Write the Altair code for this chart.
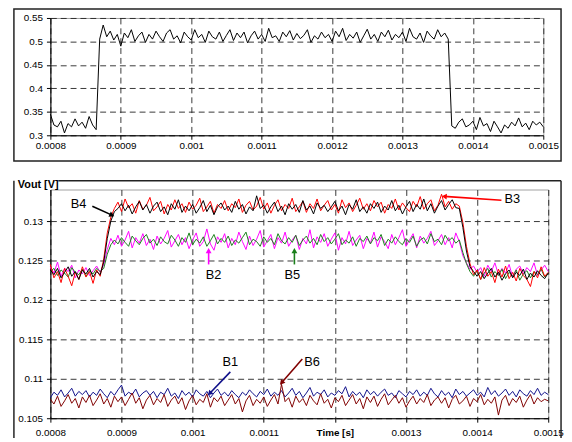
import altair as alt
import pandas as pd

FONT = "Liberation Sans"

# sample times (s)
time_s = [round(0.0008 + i * 0.000005, 7) for i in range(141)]

# top panel: input pulse (V)
top_v = [
    0.345, 0.322, 0.318, 0.330, 0.305, 0.325, 0.318, 0.335, 0.320, 0.328,
    0.315, 0.340, 0.322, 0.312, 0.505, 0.535, 0.510, 0.522, 0.503, 0.515,
    0.490, 0.518, 0.508, 0.525, 0.500, 0.512, 0.520, 0.498, 0.515, 0.505,
    0.522, 0.510, 0.500, 0.518, 0.525, 0.505, 0.512, 0.497, 0.520, 0.510,
    0.503, 0.525, 0.508, 0.515, 0.498, 0.522, 0.510, 0.505, 0.520, 0.500,
    0.513, 0.525, 0.502, 0.518, 0.508, 0.520, 0.497, 0.512, 0.522, 0.505,
    0.515, 0.500, 0.528, 0.508, 0.512, 0.500, 0.520, 0.510, 0.523, 0.503,
    0.517, 0.506, 0.513, 0.525, 0.498, 0.512, 0.505, 0.520, 0.508, 0.515,
    0.500, 0.522, 0.510, 0.528, 0.502, 0.515, 0.507, 0.520, 0.498, 0.512,
    0.526, 0.505, 0.515, 0.500, 0.520, 0.510, 0.524, 0.503, 0.515, 0.508,
    0.520, 0.500, 0.528, 0.510, 0.505, 0.518, 0.498, 0.522, 0.512, 0.505,
    0.525, 0.510, 0.518, 0.505, 0.320, 0.315, 0.328, 0.335, 0.318, 0.322,
    0.330, 0.312, 0.338, 0.320, 0.325, 0.308, 0.330, 0.318, 0.305, 0.322,
    0.315, 0.328, 0.320, 0.337, 0.318, 0.326, 0.312, 0.330, 0.322, 0.328,
    0.318,
]

# bottom panel: outputs B1..B6 (V)
b4 = [
    0.1238, 0.1232, 0.1240, 0.1228, 0.1235, 0.1242, 0.1230, 0.1236, 0.1226, 0.1238,
    0.1233, 0.1240, 0.1229, 0.1236, 0.1232, 0.1248, 0.1278, 0.1300, 0.1312, 0.1316,
    0.1322, 0.1313, 0.1320, 0.1309, 0.1318, 0.1325, 0.1314, 0.1321, 0.1310, 0.1319,
    0.1324, 0.1312, 0.1318, 0.1308, 0.1322, 0.1315, 0.1327, 0.1311, 0.1319, 0.1313,
    0.1321, 0.1310, 0.1317, 0.1326, 0.1312, 0.1320, 0.1308, 0.1318, 0.1323, 0.1314,
    0.1319, 0.1311, 0.1325, 0.1315, 0.1321, 0.1309, 0.1318, 0.1313, 0.1332, 0.1316,
    0.1320, 0.1310, 0.1318, 0.1324, 0.1312, 0.1319, 0.1308, 0.1322, 0.1315, 0.1321,
    0.1311, 0.1326, 0.1314, 0.1319, 0.1309, 0.1323, 0.1316, 0.1320, 0.1312, 0.1318,
    0.1325, 0.1313, 0.1319, 0.1308, 0.1321, 0.1315, 0.1327, 0.1312, 0.1318, 0.1310,
    0.1322, 0.1316, 0.1324, 0.1311, 0.1319, 0.1314, 0.1326, 0.1313, 0.1320, 0.1309,
    0.1318, 0.1325, 0.1312, 0.1321, 0.1315, 0.1328, 0.1313, 0.1322, 0.1310, 0.1319,
    0.1326, 0.1314, 0.1321, 0.1327, 0.1317, 0.1316, 0.1292, 0.1262, 0.1242, 0.1236,
    0.1230, 0.1236, 0.1227, 0.1234, 0.1240, 0.1229, 0.1235, 0.1225, 0.1233, 0.1238,
    0.1228, 0.1235, 0.1231, 0.1239, 0.1226, 0.1234, 0.1229, 0.1237, 0.1231, 0.1227,
    0.1234,
]
b3 = [
    0.1245, 0.1228, 0.1236, 0.1222, 0.1240, 0.1230, 0.1218, 0.1235, 0.1226, 0.1242,
    0.1229, 0.1236, 0.1221, 0.1238, 0.1230, 0.1252, 0.1285, 0.1305, 0.1316, 0.1324,
    0.1312, 0.1328, 0.1317, 0.1322, 0.1310, 0.1326, 0.1315, 0.1320, 0.1330, 0.1313,
    0.1318, 0.1325, 0.1309, 0.1321, 0.1314, 0.1327, 0.1316, 0.1322, 0.1311, 0.1324,
    0.1315, 0.1320, 0.1329, 0.1312, 0.1318, 0.1325, 0.1310, 0.1321, 0.1316, 0.1326,
    0.1313, 0.1322, 0.1317, 0.1328, 0.1311, 0.1320, 0.1325, 0.1314, 0.1319, 0.1330,
    0.1315, 0.1323, 0.1310, 0.1320, 0.1327, 0.1313, 0.1321, 0.1316, 0.1329, 0.1312,
    0.1318, 0.1325, 0.1311, 0.1322, 0.1316, 0.1328, 0.1313, 0.1320, 0.1326, 0.1314,
    0.1321, 0.1310, 0.1327, 0.1317, 0.1323, 0.1312, 0.1320, 0.1329, 0.1315, 0.1322,
    0.1313, 0.1326, 0.1318, 0.1324, 0.1310, 0.1321, 0.1316, 0.1328, 0.1314, 0.1323,
    0.1317, 0.1312, 0.1325, 0.1318, 0.1331, 0.1315, 0.1322, 0.1327, 0.1313, 0.1320,
    0.1334, 0.1318, 0.1325, 0.1315, 0.1322, 0.1319, 0.1298, 0.1268, 0.1246, 0.1232,
    0.1238, 0.1226, 0.1241, 0.1230, 0.1236, 0.1222, 0.1239, 0.1229, 0.1243, 0.1227,
    0.1235, 0.1224, 0.1240, 0.1231, 0.1226, 0.1217, 0.1236, 0.1228, 0.1242, 0.1230,
    0.1235,
]
b2 = [
    0.1242, 0.1234, 0.1248, 0.1230, 0.1240, 0.1236, 0.1244, 0.1228, 0.1238, 0.1233,
    0.1241, 0.1231, 0.1237, 0.1243, 0.1235, 0.1245, 0.1264, 0.1278, 0.1270, 0.1282,
    0.1268, 0.1276, 0.1287, 0.1266, 0.1279, 0.1272, 0.1284, 0.1269, 0.1277, 0.1264,
    0.1281, 0.1271, 0.1278, 0.1288, 0.1267, 0.1275, 0.1283, 0.1270, 0.1279, 0.1265,
    0.1276, 0.1285, 0.1268, 0.1274, 0.1290, 0.1271, 0.1263, 0.1280, 0.1273, 0.1284,
    0.1266, 0.1278, 0.1270, 0.1286, 0.1274, 0.1264, 0.1281, 0.1269, 0.1277, 0.1288,
    0.1267, 0.1275, 0.1283, 0.1265, 0.1279, 0.1272, 0.1286, 0.1268, 0.1276, 0.1282,
    0.1264, 0.1278, 0.1271, 0.1289, 0.1266, 0.1280, 0.1273, 0.1284, 0.1268, 0.1277,
    0.1285, 0.1263, 0.1279, 0.1271, 0.1287, 0.1269, 0.1276, 0.1282, 0.1265, 0.1278,
    0.1272, 0.1286, 0.1267, 0.1280, 0.1274, 0.1265, 0.1283, 0.1270, 0.1279, 0.1289,
    0.1268, 0.1276, 0.1284, 0.1266, 0.1281, 0.1272, 0.1278, 0.1287, 0.1269, 0.1275,
    0.1283, 0.1270, 0.1279, 0.1266, 0.1285, 0.1274, 0.1256, 0.1247, 0.1239, 0.1243,
    0.1235, 0.1241, 0.1230, 0.1244, 0.1236, 0.1247, 0.1232, 0.1240, 0.1234, 0.1245,
    0.1229, 0.1239, 0.1243, 0.1233, 0.1241, 0.1236, 0.1247, 0.1231, 0.1238, 0.1244,
    0.1236,
]
b5 = [
    0.1236, 0.1240, 0.1231, 0.1238, 0.1234, 0.1229, 0.1241, 0.1235, 0.1232, 0.1239,
    0.1230, 0.1237, 0.1233, 0.1240, 0.1236, 0.1240, 0.1258, 0.1270, 0.1276, 0.1271,
    0.1279, 0.1273, 0.1268, 0.1281, 0.1275, 0.1270, 0.1278, 0.1283, 0.1272, 0.1277,
    0.1269, 0.1280, 0.1274, 0.1271, 0.1282, 0.1276, 0.1268, 0.1279, 0.1273, 0.1285,
    0.1270, 0.1277, 0.1272, 0.1280, 0.1268, 0.1275, 0.1283, 0.1271, 0.1278, 0.1273,
    0.1281, 0.1269, 0.1276, 0.1272, 0.1279, 0.1286, 0.1270, 0.1277, 0.1274, 0.1268,
    0.1280, 0.1273, 0.1278, 0.1270, 0.1284, 0.1275, 0.1271, 0.1279, 0.1273, 0.1282,
    0.1269, 0.1276, 0.1281, 0.1272, 0.1278, 0.1270, 0.1283, 0.1274, 0.1279, 0.1271,
    0.1277, 0.1284, 0.1270, 0.1276, 0.1272, 0.1280, 0.1268, 0.1278, 0.1274, 0.1281,
    0.1271, 0.1279, 0.1275, 0.1283, 0.1269, 0.1277, 0.1272, 0.1280, 0.1274, 0.1270,
    0.1278, 0.1273, 0.1281, 0.1268, 0.1276, 0.1279, 0.1271, 0.1284, 0.1274, 0.1277,
    0.1270, 0.1282, 0.1275, 0.1279, 0.1272, 0.1276, 0.1260, 0.1246, 0.1236, 0.1230,
    0.1237, 0.1226, 0.1234, 0.1240, 0.1229, 0.1236, 0.1231, 0.1239, 0.1227, 0.1235,
    0.1230, 0.1238, 0.1225, 0.1233, 0.1237, 0.1228, 0.1236, 0.1232, 0.1239, 0.1229,
    0.1234,
]
b1 = [
    0.1076, 0.1083, 0.1079, 0.1086, 0.1077, 0.1082, 0.1088, 0.1078, 0.1084, 0.1080,
    0.1085, 0.1077, 0.1083, 0.1079, 0.1087, 0.1081, 0.1076, 0.1084, 0.1079, 0.1086,
    0.1092, 0.1078, 0.1083, 0.1080, 0.1087, 0.1077, 0.1082, 0.1085, 0.1079, 0.1084,
    0.1076, 0.1083, 0.1080, 0.1088, 0.1078, 0.1082, 0.1075, 0.1085, 0.1079, 0.1083,
    0.1077, 0.1086, 0.1081, 0.1078, 0.1084, 0.1076, 0.1082, 0.1087, 0.1079, 0.1083,
    0.1078, 0.1085, 0.1080, 0.1076, 0.1083, 0.1079, 0.1086, 0.1081, 0.1077, 0.1084,
    0.1080, 0.1087, 0.1078, 0.1083, 0.1079, 0.1085, 0.1077, 0.1082, 0.1088, 0.1079,
    0.1084, 0.1076, 0.1082, 0.1089, 0.1078, 0.1083, 0.1080, 0.1086, 0.1077, 0.1082,
    0.1079, 0.1085, 0.1081, 0.1090, 0.1077, 0.1084, 0.1079, 0.1083, 0.1076, 0.1086,
    0.1080, 0.1084, 0.1078, 0.1083, 0.1087, 0.1079, 0.1082, 0.1076, 0.1085, 0.1081,
    0.1077, 0.1084, 0.1080, 0.1086, 0.1078, 0.1083, 0.1079, 0.1088, 0.1081, 0.1077,
    0.1085, 0.1079, 0.1083, 0.1076, 0.1087, 0.1080, 0.1084, 0.1078, 0.1082, 0.1086,
    0.1079, 0.1083, 0.1077, 0.1089, 0.1080, 0.1085, 0.1078, 0.1082, 0.1087, 0.1079,
    0.1084, 0.1077, 0.1086, 0.1081, 0.1078, 0.1085, 0.1080, 0.1088, 0.1079, 0.1083,
    0.1080,
]
b6 = [
    0.1074, 0.1068, 0.1078, 0.1065, 0.1072, 0.1080, 0.1069, 0.1075, 0.1063, 0.1077,
    0.1070, 0.1079, 0.1066, 0.1073, 0.1081, 0.1068, 0.1075, 0.1064, 0.1078, 0.1071,
    0.1077, 0.1066, 0.1074, 0.1082, 0.1069, 0.1076, 0.1062, 0.1073, 0.1079, 0.1067,
    0.1075, 0.1070, 0.1080, 0.1065, 0.1073, 0.1078, 0.1068, 0.1076, 0.1061, 0.1072,
    0.1079, 0.1067, 0.1074, 0.1070, 0.1081, 0.1064, 0.1076, 0.1071, 0.1078, 0.1066,
    0.1073, 0.1080, 0.1068, 0.1075, 0.1058, 0.1072, 0.1079, 0.1066, 0.1074, 0.1069,
    0.1077, 0.1065, 0.1073, 0.1080, 0.1068, 0.1093, 0.1071, 0.1076, 0.1064, 0.1078,
    0.1070, 0.1075, 0.1066, 0.1079, 0.1072, 0.1067, 0.1081, 0.1069, 0.1074, 0.1063,
    0.1076, 0.1071, 0.1079, 0.1066, 0.1073, 0.1080, 0.1068, 0.1075, 0.1062, 0.1077,
    0.1070, 0.1078, 0.1065, 0.1074, 0.1081, 0.1067, 0.1073, 0.1079, 0.1069, 0.1076,
    0.1064, 0.1072, 0.1078, 0.1068, 0.1075, 0.1070, 0.1080, 0.1066, 0.1073, 0.1077,
    0.1069, 0.1076, 0.1063, 0.1074, 0.1079, 0.1068, 0.1072, 0.1078, 0.1065, 0.1075,
    0.1071, 0.1080, 0.1067, 0.1074, 0.1069, 0.1077, 0.1054, 0.1073, 0.1079, 0.1066,
    0.1075, 0.1070, 0.1078, 0.1064, 0.1073, 0.1080, 0.1068, 0.1076, 0.1071, 0.1074,
    0.1072,
]

x_ticks = [0.0008, 0.0009, 0.001, 0.0011, 0.0012, 0.0013, 0.0014, 0.0015]
top_y_ticks = [0.3, 0.35, 0.4, 0.45, 0.5, 0.55]
bot_y_ticks = [0.105, 0.11, 0.115, 0.12, 0.125, 0.13]

# annotations (data units)
ann_label = ["B4", "B3", "B2", "B5", "B1", "B6"]
ann_color = ["#000000", "#ff0000", "#ff00ff", "#1a7f1a", "#10108a", "#800000"]
ann_text_t = [0.0008395, 0.0014494, 0.0010294, 0.0011403, 0.0010530, 0.0011680]
ann_text_v = [0.13213, 0.13275, 0.12313, 0.12313, 0.11213, 0.11213]
ann_tail_t = [0.0008590, 0.0014342, 0.0010225, 0.0011431, 0.0010530, 0.0011542]
ann_tail_v = [0.13188, 0.13263, 0.12450, 0.12450, 0.11088, 0.11250]
ann_tip_t = [0.0008866, 0.0013538, 0.0010225, 0.0011431, 0.0010239, 0.0011251]
ann_tip_v = [0.13075, 0.13313, 0.12625, 0.12625, 0.10813, 0.10950]
ann_angle = [114, 274, 0, 0, 224, 221]

top_df = pd.DataFrame({"t": time_s, "v": top_v})
ann_df = pd.DataFrame({
    "label": ann_label, "tt": ann_text_t, "tv": ann_text_v,
    "t0": ann_tail_t, "v0": ann_tail_v, "t1": ann_tip_t, "v1": ann_tip_v,
    "angle": ann_angle,
})
one = pd.DataFrame({"k": [0]})

xscale = alt.Scale(domain=[0.0008, 0.0015], nice=False, zero=False)
top_yscale = alt.Scale(domain=[0.3, 0.55], nice=False, zero=False)
bot_yscale = alt.Scale(domain=[0.105, 0.134], nice=False, zero=False)
color_scale = alt.Scale(domain=ann_label, range=ann_color)

# ---------------- top panel ----------------
top_line = alt.Chart(top_df).mark_line(color="black", strokeWidth=1).encode(
    x=alt.X("t:Q", scale=xscale,
            axis=alt.Axis(values=x_ticks, format=".4~f", title=None, labelPadding=1,
                          labelFlush=False)),
    y=alt.Y("v:Q", scale=top_yscale,
            axis=alt.Axis(values=top_y_ticks, format=".2~f", title=None, labelPadding=4)),
)
top_frame = alt.Chart(one).mark_rect(fillOpacity=0, stroke="#222222", strokeWidth=1.5).encode(
    x=alt.value(-37), x2=alt.value(518), y=alt.value(-9), y2=alt.value(145)
)
top = alt.layer(top_line, top_frame).properties(width=500, height=119)

# ---------------- bottom panel ----------------
def series(vals, color):
    d = pd.DataFrame({"t": time_s, "v": vals})
    return alt.Chart(d).mark_line(color=color, strokeWidth=1).encode(
        x=alt.X("t:Q", scale=xscale,
                axis=alt.Axis(values=x_ticks, title=None, labelPadding=6, labelFlush=False,
                              labelExpr="datum.value > 0.00119 && datum.value < 0.00121 ? 'Time [s]' : format(datum.value, '.4~f')",
                              labelFontWeight={"condition": {"test": "datum.value > 0.00119 && datum.value < 0.00121", "value": "bold"}, "value": "normal"})),
        y=alt.Y("v:Q", scale=bot_yscale,
                axis=alt.Axis(values=bot_y_ticks, format=".3~f", title=None, labelPadding=4)),
    )

lines = [
    series(b1, "#10108a"), series(b6, "#800000"),
    series(b2, "#ff00ff"), series(b5, "#1a7f1a"),
    series(b3, "#ff0000"), series(b4, "#000000"),
]

arrows = alt.Chart(ann_df).mark_rule(strokeWidth=1.6).encode(
    x="t0:Q", y="v0:Q", x2="t1:Q", y2="v1:Q",
    color=alt.Color("label:N", scale=color_scale, legend=None),
)
heads = alt.Chart(ann_df).mark_point(shape="triangle-up", filled=True, size=35, opacity=1).encode(
    x="t1:Q", y="v1:Q", angle=alt.Angle("angle:Q", scale=None),
    color=alt.Color("label:N", scale=color_scale, legend=None),
)
labels = alt.Chart(ann_df).mark_text(fontSize=13, font=FONT, color="black").encode(
    x="tt:Q", y="tv:Q", text="label:N"
)

frame_l = alt.Chart(one).mark_rule(color="#222222", strokeWidth=1.5).encode(
    x=alt.value(-37), y=alt.value(-9), y2=alt.value(252))
frame_r = alt.Chart(one).mark_rule(color="#222222", strokeWidth=1.5).encode(
    x=alt.value(518), y=alt.value(-9), y2=alt.value(252))
frame_t = alt.Chart(one).mark_rule(color="#222222", strokeWidth=1.5).encode(
    x=alt.value(8), x2=alt.value(518), y=alt.value(-9))
vout = alt.Chart(one).mark_text(text="Vout [V]", align="left", baseline="middle",
                                fontWeight="bold", fontSize=11, font=FONT).encode(
    x=alt.value(-33), y=alt.value(-5))

bottom = alt.layer(*lines, arrows, heads, labels, frame_l, frame_r, frame_t, vout).properties(
    width=505, height=232)

chart = alt.vconcat(top, bottom, spacing=15).properties(
    padding={"left": 4, "top": -4, "right": 0, "bottom": 0}
).configure_axis(
    labelFont=FONT, labelFontSize=10, labelColor="black",
    domainColor="black", tickColor="black", tickSize=4,
    gridColor="#222222", gridDash=[6, 4], gridWidth=1, gridOpacity=0.9,
).configure_view(stroke="#a0a0a0", strokeWidth=1)

chart.save("out.html", embed_options={"renderer": "svg", "actions": False})
